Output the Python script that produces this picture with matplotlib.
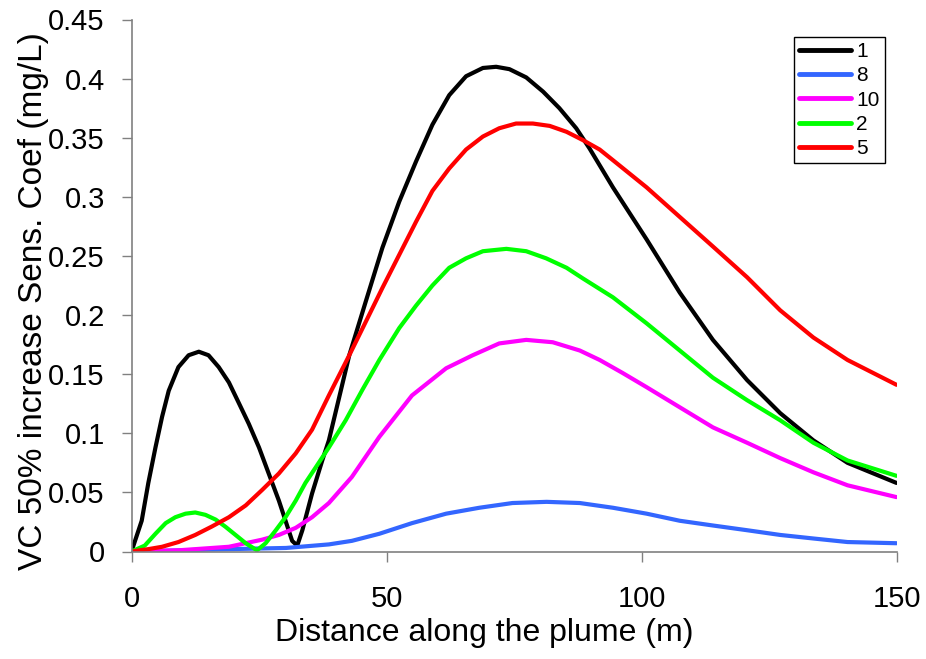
import matplotlib.pyplot as plt

plt.rcParams['font.family'] = ['Liberation Sans', 'DejaVu Sans']

# ---- data (distance in m, coefficient in mg/L)
x1 = [0, 2.0, 3.3, 4.7, 6.0, 7.3, 9.2, 11.2, 13.2, 15.1, 17.1, 19.1, 21.0, 23.0, 25.0, 26.9, 28.9, 30.2,
      31.5, 32.5, 33.5, 35.4, 37.4, 38.7, 40.7, 42.7, 45.9, 49.2, 52.5, 55.8, 59.0, 62.3, 65.6, 68.9,
      71.5, 74.1, 77.4, 80.7, 83.9, 87.2, 89.8, 94.4, 101.0, 107.5, 114.0, 120.7, 127.2, 133.7, 140.4, 150]
y1 = [0, 0.026, 0.058, 0.088, 0.114, 0.136, 0.156, 0.166, 0.169, 0.166, 0.156, 0.143, 0.126, 0.108, 0.088,
      0.066, 0.043, 0.026, 0.009, 0.005, 0.018, 0.049, 0.077, 0.094, 0.130, 0.166, 0.211, 0.257, 0.296,
      0.330, 0.361, 0.386, 0.402, 0.409, 0.410, 0.408, 0.401, 0.389, 0.375, 0.358, 0.341, 0.308, 0.264,
      0.219, 0.179, 0.145, 0.117, 0.094, 0.075, 0.058]

x8 = [0, 19.1, 30.3, 38.7, 43.2, 48.6, 55.0, 61.7, 68.2, 74.7, 81.4, 87.9, 94.4, 101.0,
      107.5, 114.0, 120.7, 127.2, 133.7, 140.4, 150]
y8 = [0, 0.002, 0.003, 0.006, 0.009, 0.015, 0.024, 0.032, 0.037, 0.041, 0.042, 0.041, 0.037, 0.032,
      0.026, 0.022, 0.018, 0.014, 0.011, 0.008, 0.007]

x10 = [0, 9.2, 19.1, 25.6, 28.9, 32.2, 35.4, 38.7, 43.2, 48.6, 55.0, 61.7, 66.9, 72.1, 77.4, 82.6,
       87.9, 91.8, 96.3, 101.0, 107.5, 114.0, 120.7, 127.2, 133.7, 140.4, 150]
y10 = [0, 0.001, 0.004, 0.010, 0.014, 0.020, 0.029, 0.041, 0.063, 0.097, 0.132, 0.155, 0.166, 0.176,
       0.179, 0.177, 0.170, 0.162, 0.151, 0.139, 0.122, 0.105, 0.092, 0.079, 0.067, 0.056, 0.046]

x2 = [0, 2.6, 4.7, 6.7, 8.6, 10.6, 12.5, 14.5, 16.5, 18.4, 20.4, 22.4, 24.6, 26.3, 28.3, 30.2, 32.2,
      34.1, 36.1, 38.7, 42.0, 45.3, 48.6, 52.5, 55.8, 59.0, 62.3, 65.6, 68.9, 73.5, 77.4, 81.3, 85.3,
      88.5, 94.4, 101.0, 107.5, 114.0, 120.7, 127.2, 133.7, 140.4, 150]
y2 = [0, 0.005, 0.015, 0.024, 0.029, 0.032, 0.033, 0.031, 0.027, 0.021, 0.014, 0.007, 0.001, 0.007,
      0.018, 0.029, 0.043, 0.058, 0.071, 0.088, 0.111, 0.137, 0.162, 0.189, 0.208, 0.225, 0.240, 0.248,
      0.254, 0.256, 0.254, 0.248, 0.240, 0.231, 0.215, 0.193, 0.170, 0.147, 0.128, 0.111, 0.092, 0.077,
      0.064]

x5 = [0, 3.3, 6.0, 9.2, 12.5, 15.7, 19.1, 22.4, 25.6, 28.9, 32.2, 35.4, 38.7, 42.7, 45.9, 49.2, 52.5,
      55.8, 59.0, 62.3, 65.6, 68.9, 72.1, 75.4, 78.7, 82.0, 85.3, 88.5, 91.8, 94.4, 101.0, 107.5, 114.0,
      120.7, 127.2, 133.7, 140.4, 150]
y5 = [0, 0.002, 0.004, 0.008, 0.014, 0.021, 0.029, 0.039, 0.052, 0.066, 0.083, 0.103, 0.132, 0.166,
      0.194, 0.223, 0.251, 0.279, 0.305, 0.324, 0.340, 0.351, 0.358, 0.362, 0.362, 0.360, 0.355, 0.348,
      0.340, 0.331, 0.308, 0.283, 0.258, 0.232, 0.204, 0.181, 0.162, 0.141]

series = [('1', x1, y1, 'black'), ('8', x8, y8, '#3366ff'), ('10', x10, y10, '#ff00ff'),
          ('2', x2, y2, '#00ff00'), ('5', x5, y5, '#ff0000')]

fig = plt.figure(figsize=(9.26, 6.59), dpi=100)
ax = fig.add_axes([131.5 / 926, 1 - 551.5 / 659, 765 / 926, 532 / 659])

for name, xs, ys, c in series:
    ax.plot(xs, ys, color=c, lw=3, label=name, solid_joinstyle='round', solid_capstyle='round')

ax.set_xlim(0, 150)
ax.set_ylim(0, 0.45)
ax.set_xticks([0, 50, 100, 150])
ax.set_yticks([0, 0.05, 0.1, 0.15, 0.2, 0.25, 0.3, 0.35, 0.4, 0.45])
ax.set_yticklabels(['0', '0.05', '0.1', '0.15', '0.2', '0.25', '0.3', '0.35', '0.4', '0.45'])
ax.tick_params(direction='out', length=7.2, width=1, color='#808080', labelsize=21)
ax.tick_params(axis='x', pad=17)
ax.tick_params(axis='y', pad=12)
for s in ['top', 'right']:
    ax.spines[s].set_visible(False)
for s in ['left', 'bottom']:
    ax.spines[s].set_color('#808080')
    ax.spines[s].set_linewidth(1.2)

ax.set_xlabel('Distance along the plume (m)', fontsize=23)
ax.set_ylabel('VC 50% increase Sens. Coef (mg/L)', fontsize=24)
ax.xaxis.set_label_coords(0.461, -0.125)
ax.yaxis.set_label_coords(-0.108, 0.47)

leg = ax.legend(loc='upper right', bbox_to_anchor=(885 / 926, 1 - 37 / 659),
                bbox_transform=fig.transFigure, fontsize=15, frameon=True,
                fancybox=False, edgecolor='black', handlelength=2.5, handletextpad=0.25,
                labelspacing=0.25, borderpad=0.25, borderaxespad=0, framealpha=1)
leg.get_frame().set_linewidth(1)
for line in leg.get_lines():
    line.set_linewidth(3.5)

plt.savefig('out.png', dpi=100)
